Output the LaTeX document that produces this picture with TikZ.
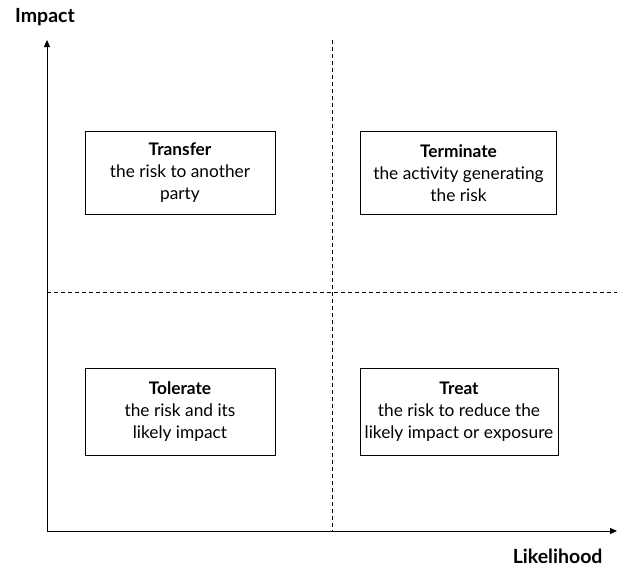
\documentclass[tikz,border=0pt]{standalone}
\usepackage{fontspec}
\setmainfont{Lato}
\usetikzlibrary{arrows.meta}
\begin{document}
\begin{tikzpicture}[x=1pt,y=-1pt,
  axis/.style={line width=0.8pt,-{Triangle[length=7pt,width=6pt]}},
  divider/.style={line width=0.6pt,dash pattern=on 4pt off 3pt},
  option/.style={draw,line width=0.8pt,minimum width=190pt,minimum height=83pt,
    align=center,font=\fontsize{17.3}{22}\selectfont,inner sep=0pt},
  axislabel/.style={font=\fontsize{19.5}{22}\selectfont\bfseries}]
\useasboundingbox (0,0) rectangle (619,570);
% axes
\coordinate (origin) at (47,531);
\coordinate (ytip) at (47,40);
\coordinate (xtip) at (617,531);
\draw[axis] (origin) -- (ytip);
\draw[axis] (origin) -- (xtip);
% quadrant dividers
\coordinate (vtop) at (332,40);
\coordinate (vbot) at (332,531);
\coordinate (hleft) at (47,292);
\coordinate (hright) at (617,292);
\draw[divider] (vtop) -- (vbot);
\draw[divider] (hleft) -- (hright);
% axis labels
\node[axislabel] (impact) at (45,17) {Impact};
\node[axislabel,anchor=east] (likelihood) at (606,556) {Likelihood};
% the four responses
\node[option] (transfer) at (180,173) {\textbf{Transfer}\\the risk to another\\party};
\node[option,minimum width=196pt] (terminate) at (458.5,173) {\textbf{Terminate}\\the activity generating\\the risk};
\node[option,minimum height=87pt] (tolerate) at (180,411.5) {\textbf{Tolerate}\\the risk and its\\likely impact};
\node[option,minimum width=198pt,minimum height=87pt] (treat) at (459,411.5) {\textbf{Treat}\\the risk to reduce the\\likely impact or exposure};
\end{tikzpicture}
\end{document}
